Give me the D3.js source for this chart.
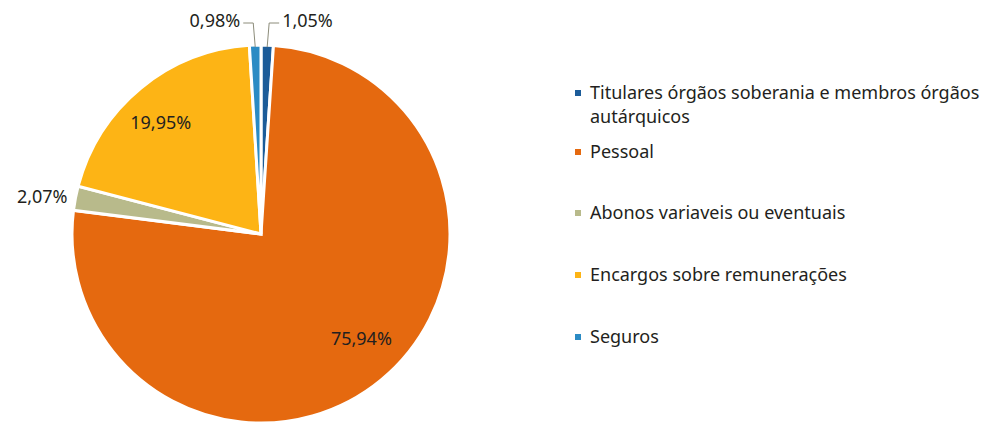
<!DOCTYPE html>
<html>
<head>
<meta charset="utf-8">
<script src="https://cdn.jsdelivr.net/npm/d3@7"></script>
<style>
  body { margin: 0; background: #fff; }
  text { font-family: "Noto Sans", sans-serif; fill: #231f20; }
</style>
</head>
<body>
<div id="chart-area"></div>
<script>

// Data
var categories = ["Titulares órgãos soberania e membros órgãos autárquicos",
    "Pessoal", "Abonos variaveis ou eventuais", "Encargos sobre remunerações", "Seguros"];
var values = [1.05, 75.94, 2.07, 19.95, 0.98];
var colors = ["#1c5c99", "#e5690f", "#b8ba8b", "#fdb415", "#2b8bc4"];
var legendLines = [["Titulares órgãos soberania e membros órgãos", "autárquicos"],
    ["Pessoal"], ["Abonos variaveis ou eventuais"], ["Encargos sobre remunerações"], ["Seguros"]];

// SVG drawing area
var width = 986, height = 423;
var cx = 261, cy = 234, radius = 189;

var svg = d3.select("#chart-area").append("svg")
    .attr("width", width)
    .attr("height", height);

var g = svg.append("g")
    .attr("transform", "translate(" + cx + "," + cy + ")");

var pie = d3.pie().sort(null).value(function(d) { return d; });
var arcs = pie(values);

var arc = d3.arc().innerRadius(0).outerRadius(radius);
var labelArc = d3.arc().innerRadius(radius * 0.76).outerRadius(radius * 0.76);

var fmt = function(v) { return d3.format(".2f")(v).replace(".", ",") + "%"; };
var labelSize = "18px";

// Slices
g.selectAll("path.slice")
    .data(arcs)
  .enter().append("path")
    .attr("class", "slice")
    .attr("d", arc)
    .attr("fill", function(d, i) { return colors[i]; })
    .attr("stroke", "#fff")
    .attr("stroke-width", 3)
    .attr("stroke-linejoin", "miter");

// Inside labels (big slices)
g.selectAll("text.inner")
    .data(arcs.filter(function(d) { return d.value > 10; }))
  .enter().append("text")
    .attr("class", "inner")
    .attr("transform", function(d) {
        var c = labelArc.centroid(d);
        return "translate(" + (c[0] + (d.value > 50 ? 9 : -9)) + "," + (c[1] + (d.value > 50 ? -6 : 0)) + ")";
    })
    .attr("text-anchor", "middle")
    .attr("dy", "0.35em")
    .style("font-size", labelSize)
    .text(function(d) { return fmt(d.value); });

// Abonos label (outside left)
var ab = arcs[2];
var abMid = (ab.startAngle + ab.endAngle) / 2;
g.append("text")
    .attr("x", Math.sin(abMid) * (radius + 8))
    .attr("y", -Math.cos(abMid) * (radius + 8))
    .attr("text-anchor", "end")
    .attr("dy", "0.35em")
    .style("font-size", labelSize)
    .text(fmt(ab.value));

// Small top slices with leader lines
var topY = 23 - cy;
[0, 4].forEach(function(i) {
    var d = arcs[i];
    var mid = (d.startAngle + d.endAngle) / 2;
    var side = Math.sin(mid) >= 0 ? 1 : -1;
    var x0 = Math.sin(mid) * (radius - 2), y0 = -Math.cos(mid) * (radius - 2);
    var x1 = x0 + side * 2;
    var x2 = x1 + side * 10;
    g.append("polyline")
        .attr("points", [[x0, y0], [x1, topY], [x2, topY]].join(" "))
        .attr("fill", "none")
        .attr("stroke", "#8c8c7a")
        .attr("stroke-width", 1);
    g.append("text")
        .attr("x", x2 + side * 3)
        .attr("y", topY)
        .attr("dy", "0.2em")
        .attr("text-anchor", side > 0 ? "start" : "end")
        .style("font-size", labelSize)
        .text(fmt(d.value));
});

// Legend
var legendY = [93, 152, 213, 275, 337];
var legend = svg.selectAll("g.legend")
    .data(categories)
  .enter().append("g")
    .attr("class", "legend")
    .attr("transform", function(d, i) { return "translate(575," + legendY[i] + ")"; });

legend.append("rect")
    .attr("x", 0).attr("y", -3)
    .attr("width", 6).attr("height", 6)
    .attr("fill", function(d, i) { return colors[i]; });

legend.append("text")
    .attr("x", 15)
    .style("font-size", "18px")
    .each(function(d, i) {
        var t = d3.select(this);
        legendLines[i].forEach(function(line, j) {
            t.append("tspan").attr("x", 15).attr("dy", j === 0 ? "0.35em" : "24px").text(line);
        });
    });

</script>
</body>
</html>
